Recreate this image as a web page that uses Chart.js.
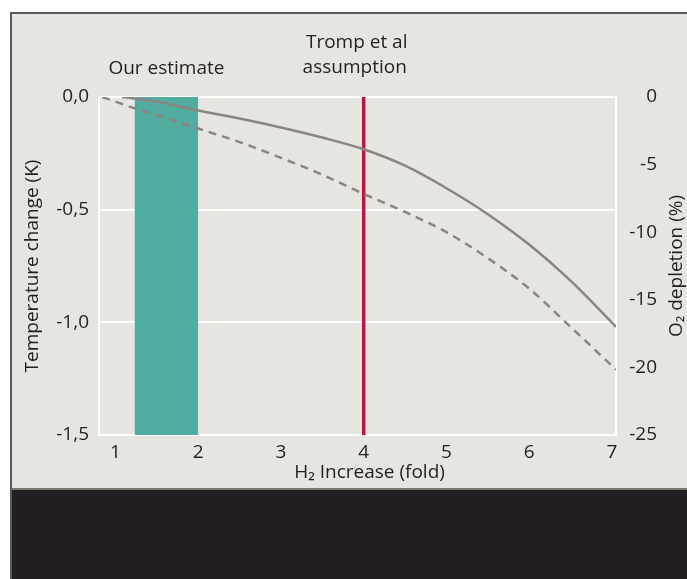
<!DOCTYPE html>
<html>
<head>
<meta charset="utf-8">
<script src="https://cdn.jsdelivr.net/npm/chart.js@4.4.0/dist/chart.umd.min.js"></script>
<style>
  html, body { margin: 0; padding: 0; background: #ffffff; }
  body { width: 687px; height: 579px; position: relative; overflow: hidden; }
  #quadro { position: absolute; left: 10px; top: 12px; right: 0; bottom: 0;
            border-left: 2px solid #5a5a58; border-top: 2px solid #5a5a58; background: #e6e5df; }
  #faixa { position: absolute; left: 12px; top: 488px; right: 0; bottom: 0;
           border-top: 2px solid #78766f; background: #231f20; }
  #grafico { position: absolute; left: 0; top: 0; }
</style>
</head>
<body>
<div id="quadro"></div>
<div id="faixa"></div>
<canvas id="grafico" width="687" height="579"></canvas>
<script>
// ===== DADOS =====
const xTicks = [1, 2, 3, 4, 5, 6, 7];
const tempTicks = [0, -0.5, -1.0, -1.5];
const o2Ticks = [0, -5, -10, -15, -20, -25];

// curva cheia (temperatura)
const solidX = [1.08, 1.5, 2, 2.5, 3, 3.5, 4, 4.5, 5, 5.5, 6, 6.5, 7.05];
const solidY = [0, -0.02, -0.06, -0.095, -0.135, -0.18, -0.232, -0.305, -0.405, -0.52, -0.655, -0.815, -1.02];

// curva tracejada (O2)
const dashedX = [0.84, 1.27, 1.5, 2, 2.5, 3, 3.5, 4, 4.5, 5, 5.5, 6, 6.5, 7.05];
const dashedY = [0, -0.055, -0.08, -0.14, -0.2, -0.27, -0.345, -0.43, -0.51, -0.6, -0.715, -0.85, -1.02, -1.21];

// faixa "Our estimate" e linha "Tromp et al"
const bandX = [1.23, 2.0];
const trompX = 4;
const yMin = -1.5, yMax = 0;

const FONTE = '"Open Sans", "DejaVu Sans", sans-serif';
const TAM = 19;
const TEXTO = '#231f20';
const CINZA = '#8a8580';

const pares = (xs, ys) => xs.map((x, i) => ({ x: x, y: ys[i] }));

// ===== TEXTOS EXTRAS =====
const textosExtras = {
    id: 'textosExtras',
    afterDraw(chart) {
        const c = chart.ctx;
        const sx = chart.scales.x;
        const area = chart.chartArea;
        c.save();
        c.fillStyle = TEXTO;
        c.font = TAM + 'px ' + FONTE;
        c.textBaseline = 'middle';
        c.textAlign = 'center';
        const meioBanda = sx.getPixelForValue((bandX[0] + bandX[1]) / 2);
        c.fillText('Our estimate', meioBanda, 69);
        const xr = sx.getPixelForValue(trompX);
        c.fillText('Tromp et al', xr - 7, 43);
        c.fillText('assumption', xr - 9, 68);
        // título do eixo x
        c.fillText('H₂ Increase (fold)', (area.left + area.right) / 2 + 12, 473);
        // título do eixo direito, lido de baixo para cima
        c.translate(677, (area.top + area.bottom) / 2);
        c.rotate(-Math.PI / 2);
        c.fillText('O₂ depletion (%)', 0, 0);
        c.restore();
    }
};

const ctx = document.getElementById('grafico');

new Chart(ctx, {
    type: 'line',
    data: {
        datasets: [
            {
                label: 'Temperature',
                data: pares(solidX, solidY),
                borderColor: CINZA,
                borderWidth: 2.5,
                pointRadius: 0,
                cubicInterpolationMode: 'monotone',
                fill: false,
                order: 0
            },
            {
                label: 'O2',
                data: pares(dashedX, dashedY),
                borderColor: CINZA,
                borderWidth: 2.5,
                borderDash: [8, 6],
                pointRadius: 0,
                cubicInterpolationMode: 'monotone',
                fill: false,
                order: 1
            },
            {
                label: 'Tromp',
                data: [{ x: trompX, y: yMax }, { x: trompX, y: yMin }],
                borderColor: '#c8103e',
                borderWidth: 3.5,
                pointRadius: 0,
                fill: false,
                order: 2
            },
            {
                label: 'Estimate',
                data: [{ x: bandX[0], y: yMax }, { x: bandX[1], y: yMax }],
                borderWidth: 0,
                borderColor: 'rgba(0,0,0,0)',
                backgroundColor: '#52ab9f',
                pointRadius: 0,
                fill: { value: yMin },
                order: 3
            }
        ]
    },
    options: {
        responsive: false,
        animation: false,
        layout: { padding: { top: 97, left: 0, right: 30, bottom: 0 } },
        plugins: {
            legend: { display: false },
            tooltip: { enabled: false }
        },
        scales: {
            x: {
                type: 'linear',
                min: 0.8,
                max: 7.05,
                afterFit: (s) => { s.height = 144; },
                afterBuildTicks: (s) => { s.ticks = xTicks.map(v => ({ value: v })); },
                grid: { display: false, drawTicks: false },
                border: { display: true, color: '#ffffff', width: 2 },
                ticks: {
                    padding: 6,
                    color: TEXTO,
                    font: { family: FONTE, size: TAM },
                    callback: (v) => String(v)
                }
            },
            y: {
                type: 'linear',
                position: 'left',
                min: yMin,
                max: yMax,
                afterFit: (s) => { s.width = 99; },
                afterBuildTicks: (s) => { s.ticks = tempTicks.map(v => ({ value: v })); },
                grid: { display: true, color: '#ffffff', lineWidth: 2, drawTicks: false },
                border: { display: true, color: '#ffffff', width: 2 },
                ticks: {
                    padding: 10,
                    color: TEXTO,
                    font: { family: FONTE, size: TAM },
                    callback: (v) => v.toFixed(1).replace('.', ',')
                },
                title: {
                    display: true,
                    text: 'Temperature change (K)',
                    color: TEXTO,
                    font: { family: FONTE, size: TAM },
                    padding: { top: 21, bottom: 0 }
                }
            },
            y2: {
                type: 'linear',
                position: 'right',
                min: -25,
                max: 0,
                afterFit: (s) => { s.width = 41; },
                afterBuildTicks: (s) => { s.ticks = o2Ticks.map(v => ({ value: v })); },
                grid: { display: false, drawTicks: false },
                border: { display: true, color: '#ffffff', width: 2 },
                ticks: {
                    padding: 8,
                    crossAlign: 'far',
                    color: TEXTO,
                    font: { family: FONTE, size: TAM },
                    callback: (v) => String(v)
                }
            }
        }
    },
    plugins: [textosExtras]
});
</script>
</body>
</html>
